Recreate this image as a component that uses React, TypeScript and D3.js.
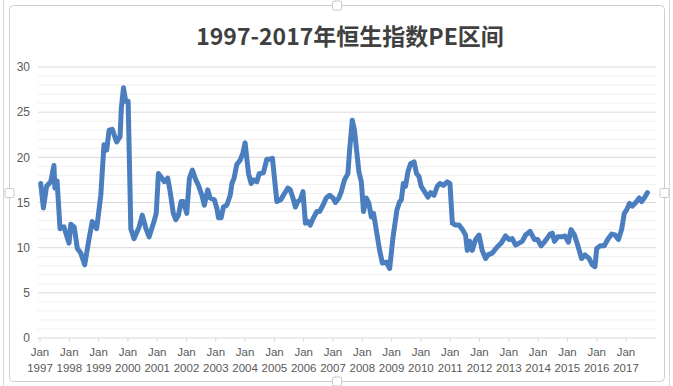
import * as d3 from 'd3';

const WIDTH = 673;
const HEIGHT = 386;
const MARGIN = { top: 67, right: 17, bottom: 48, left: 38 };

const TITLE = '1997-2017年恒生指数PE区间';

// months since Jan 1997 and the PE value at that point
const months = [
  0.3, 1.4, 2.7, 4.4, 5.7, 6.1, 7, 8.2, 9.8, 11.9, 12.6, 14, 15.3, 16.7, 18.3, 20.1, 21.4, 23.2,
  24.9, 26.2, 27.3, 28.3, 29.6, 31.4, 32.8, 33.3, 34.2, 35.1, 36.1, 37.2, 38.5, 40.6, 41.9, 43.4,
  44.7, 46.7, 47.6, 48.5, 49.9, 50.9, 52.3, 53.3, 54.6, 55.6, 56.7, 57.8, 58.7, 60.1, 61.2, 62.4,
  63.8, 64.9, 66.3, 67.3, 68.7, 69.7, 71.4, 72.4, 73.1, 74.2, 75.1, 76.5, 77.9, 78.6, 79.5, 80.6,
  82, 83.1, 84, 85.4, 86.5, 87.4, 88.8, 89.8, 91.5, 92.9, 94.3, 95.2, 97, 98.6, 100.1, 101.5,
  102.5, 103.6, 104.6, 105.6, 106.6, 107.7, 108.7, 109.7, 110.7, 112, 113.4, 114.5, 115.9, 117.2,
  118.6, 120, 121, 122.4, 123.4, 124.7, 126.1, 126.8, 127.9, 128.8, 129.5, 130.6, 131.6, 132.5,
  133.6, 134.7, 135.7, 136.6, 137.7, 139.1, 140.2, 141.8, 143.2, 144.6, 146.2, 147.3, 148, 148.8,
  149.7, 150.7, 151.8, 153.2, 154.2, 155.2, 156.1, 157.5, 158.9, 160, 161.4, 162.7, 163.8, 165.2,
  166.8, 167.9, 168.9, 170.2, 171.6, 173, 174.3, 175, 176.1, 177, 178.4, 179.8, 181.1, 182.5,
  183.5, 185.2, 187.3, 188.9, 190.7, 192.1, 193.4, 194.8, 196.2, 197.5, 198.9, 200.7, 202.5,
  203.8, 205.2, 206.8, 208.9, 209.8, 210.7, 212, 213.6, 215, 216.4, 217.5, 218.9, 220.2, 221.8,
  223.2, 224.9, 226.2, 227.3, 228, 229.4, 231.1, 232.5, 234.1, 235.5, 236.9, 238.2, 239.3, 240.3,
  241.4, 242.6, 244, 245.4, 246.4, 247.5, 248.8,
];

const pe = [
  17.1, 14.4, 16.8, 17.3, 19.1, 16.6, 17.4, 12.1, 12.3, 10.5, 12.6, 12.3, 9.9, 9.4, 8.1, 11.0, 12.9, 12.1,
  15.8, 21.4, 20.8, 23.0, 23.1, 21.7, 22.3, 25.4, 27.7, 26.2, 26.2, 12.1, 11.0, 12.3, 13.6, 12.1,
  11.2, 12.9, 13.8, 18.2, 17.7, 17.3, 17.7, 16.2, 13.8, 13.1, 13.6, 15.1, 15.1, 13.8, 17.7, 18.6,
  17.5, 16.9, 15.8, 14.7, 16.4, 15.5, 15.3, 14.4, 13.3, 13.3, 14.5, 14.7, 15.8, 17.1, 17.7, 19.2,
  19.7, 20.5, 21.6, 18.2, 17.1, 17.5, 17.3, 18.2, 18.3, 19.8, 19.8, 19.9, 15.1, 15.3, 16.0, 16.6,
  16.4, 15.5, 14.5, 15.1, 15.3, 16.2, 12.7, 12.9, 12.5, 13.3, 14.0, 14.0, 14.7, 15.5,
  15.8, 15.5, 15.0, 15.5, 16.2, 17.5, 18.2, 20.8, 24.1, 23.0, 21.2, 18.4, 17.3, 14.0,
  15.5, 14.9, 13.4, 13.8, 12.0, 9.7, 8.3, 8.4, 7.7, 11.2, 14.2, 15.1, 15.3, 17.1,
  16.8, 18.4, 19.3, 19.5, 18.2, 17.9, 16.8, 16.2, 15.6, 16.1, 15.8, 16.8, 17.1, 16.9,
  17.3, 17.1, 12.7, 12.5, 12.5, 12.0, 11.4, 9.7, 10.7, 9.7, 10.9, 11.4, 9.7, 8.8,
  9.2, 9.4, 10.1, 10.5, 11.3, 10.9, 11.0, 10.3, 10.5, 10.7, 11.4, 11.8, 10.9,
  10.9, 10.2, 10.7, 11.5, 11.6, 10.7, 11.2, 11.2, 11.3, 10.6, 12.0, 11.4, 10.3, 8.8,
  9.2, 8.8, 8.1, 7.9, 9.9, 10.2, 10.2, 10.9, 11.5, 11.4, 10.9, 12.0, 13.8, 14.2,
  14.9, 14.6, 15.0, 15.5, 15.1, 15.5, 16.1,
];

const years = d3.range(1997, 2018);
const yTicks = [0, 5, 10, 15, 20, 25, 30];
const yMinor = d3.range(0, 31);

const LABEL_FONT = '"Liberation Sans Narrow", "Liberation Sans", Arial, sans-serif';

export default function App() {
  const x = d3.scaleLinear().domain([0, 240]).range([40, 626]);
  const y = d3.scaleLinear().domain([0, 30]).range([HEIGHT - MARGIN.bottom, MARGIN.top]);
  const x0 = MARGIN.left;
  const x1 = WIDTH - MARGIN.right;

  const points = months.map((m, i) => [m, pe[i]] as [number, number]);
  const line = d3.line<[number, number]>()
    .x(d => x(d[0]))
    .y(d => y(d[1]));

  const handle = (cx: number, cy: number, key: string) => (
    <rect key={key} x={cx - 4.5} y={cy - 4.5} width={9} height={9} rx={1.5}
      fill="#fff" stroke="#c8c8c8" strokeWidth={1} />
  );

  return (
    <svg width={WIDTH} height={HEIGHT} style={{ position: 'absolute', left: 0, top: 0, background: '#fff' }}>
      {/* frame of the chart area */}
      <line x1={3.5} x2={3.5} y1={0} y2={HEIGHT} stroke="#d6d6d6" />
      <line x1={669.5} x2={669.5} y1={0} y2={HEIGHT} stroke="#d6d6d6" />
      <rect x={9.5} y={5.5} width={655} height={376} rx={4} fill="#fff" stroke="#cfcfcf" />

      {/* minor grid */}
      {yMinor.filter(v => v % 5 !== 0).map(v => (
        <line key={'m' + v} x1={x0} x2={x1} y1={y(v)} y2={y(v)} stroke="#efefef" strokeWidth={1} />
      ))}
      {/* major grid */}
      {yTicks.map(v => (
        <line key={'g' + v} x1={x0} x2={x1} y1={y(v)} y2={y(v)} stroke="#d9d9d9" strokeWidth={1} />
      ))}
      {yTicks.map(v => (
        <text key={'t' + v} x={30} y={y(v)} dy="0.35em" textAnchor="end"
          fontFamily={LABEL_FONT} fontSize={12} fill="#595959">{v}</text>
      ))}

      {/* x axis ticks and labels */}
      {years.map(yr => {
        const px = x((yr - 1997) * 12);
        return (
          <g key={yr}>
            <line x1={px} x2={px} y1={y(0)} y2={y(0) + 4} stroke="#d9d9d9" />
            <text x={px} y={356} textAnchor="middle" fontFamily={LABEL_FONT} fontSize={11.5} fill="#595959">Jan</text>
            <text x={px} y={372} textAnchor="middle" fontFamily={LABEL_FONT} fontSize={11.5} fill="#595959">{yr}</text>
          </g>
        );
      })}

      <path d={line(points) || ''} fill="none" stroke="#4a7ebf" strokeWidth={5}
        strokeLinejoin="round" strokeLinecap="round" />

      <text x={350} y={45} textAnchor="middle" fontFamily='"Noto Sans CJK SC", sans-serif'
        fontSize={23} fontWeight={700} fill="#404040">{TITLE}</text>

      {handle(337, 5.5, 'ht')}
      {handle(337, 381.5, 'hb')}
      {handle(9.5, 193, 'hl')}
      {handle(664.5, 193, 'hr')}
    </svg>
  );
}
